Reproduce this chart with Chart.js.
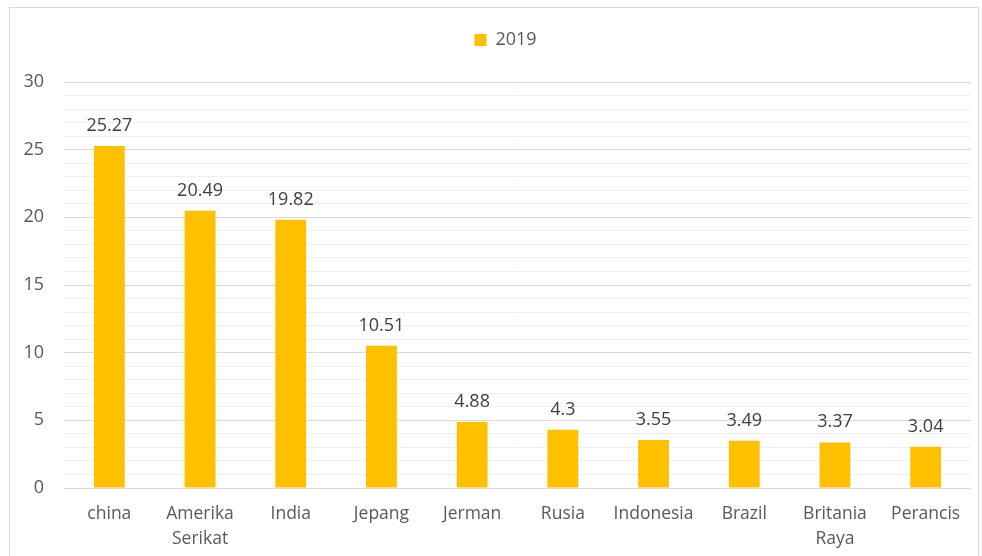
<!DOCTYPE html>
<html>
<head>
<meta charset="utf-8">
<script src="https://cdn.jsdelivr.net/npm/chart.js@4"></script>
<style>
    body { margin: 0; background: #fff; }
    #wrap { position: relative; width: 982px; height: 556px; }
    #frame { position: absolute; left: 9px; top: 7px; width: 970px; height: 560px; border: 1px solid #d9d9d9; box-sizing: border-box; }
    canvas { position: absolute; left: 0; top: 0; }
</style>
</head>
<body>
<div id="wrap">
    <div id="frame"></div>
    <canvas id="barChart" width="982" height="556"></canvas>
</div>
<script>
const categories = ['china', ['Amerika', 'Serikat'], 'India', 'Jepang', 'Jerman', 'Rusia', 'Indonesia', 'Brazil', ['Britania', 'Raya'], 'Perancis'];
const values2019 = [25.27, 20.49, 19.82, 10.51, 4.88, 4.3, 3.55, 3.49, 3.37, 3.04];
const seriesName = '2019';
const yTickLabels = [0, 5, 10, 15, 20, 25, 30];

const fontFamily = '"Open Sans", Lato, sans-serif';

const valueLabels = {
    id: 'valueLabels',
    afterDatasetsDraw(chart) {
        const ctx = chart.ctx;
        const meta = chart.getDatasetMeta(0);
        ctx.save();
        ctx.fillStyle = '#404040';
        ctx.font = '18px ' + fontFamily;
        ctx.textAlign = 'center';
        ctx.textBaseline = 'alphabetic';
        meta.data.forEach((bar, i) => {
            ctx.fillText(String(values2019[i]), bar.x, bar.y - 15);
        });
        ctx.restore();
    }
};

// push the plot down below the legend, and nudge the legend a bit right like the original
const legendTweak = {
    id: 'legendTweak',
    beforeInit(chart) {
        const legend = chart.legend;
        const fit = legend.fit;
        const draw = legend.draw;
        legend.fit = function () {
            fit.call(this);
            this.height += 23;
        };
        legend.draw = function () {
            chart.ctx.save();
            chart.ctx.translate(20, 0);
            draw.call(this);
            chart.ctx.restore();
        };
    }
};

const ctx = document.getElementById('barChart').getContext('2d');
const chart = new Chart(ctx, {
    type: 'bar',
    data: {
        labels: categories,
        datasets: [{
            label: seriesName,
            data: values2019,
            backgroundColor: '#FFC000',
            borderWidth: 0,
            categoryPercentage: 1,
            barPercentage: 0.34
        }]
    },
    options: {
        responsive: false,
        animation: false,
        layout: {
            padding: { left: 0, right: 11, top: 25, bottom: 0 }
        },
        plugins: {
            legend: {
                position: 'top',
                labels: {
                    boxWidth: 12,
                    boxHeight: 12,
                    color: '#595959',
                    font: { family: fontFamily, size: 18 },
                    padding: 6
                }
            },
            tooltip: { enabled: false }
        },
        scales: {
            x: {
                grid: { display: false, drawTicks: false },
                border: { display: false },
                ticks: {
                    color: '#595959',
                    font: { family: fontFamily, size: 17.5, lineHeight: 1.4 },
                    padding: 14,
                    maxRotation: 0,
                    autoSkip: false
                },
                afterFit(scale) { scale.height = 68; }
            },
            y: {
                min: 0,
                max: 30,
                grid: {
                    drawTicks: false,
                    color: c => (c.tick && c.tick.value % 5 === 0) ? '#d9d9d9' : '#efefef',
                    lineWidth: 1
                },
                border: { display: false },
                ticks: {
                    stepSize: 1,
                    autoSkip: false,
                    color: '#595959',
                    font: { family: fontFamily, size: 18 },
                    padding: 20,
                    callback: v => yTickLabels.includes(v) ? v : ''
                },
                afterFit(scale) { scale.width = 64; }
            }
        }
    },
    plugins: [valueLabels, legendTweak]
});
</script>
</body>
</html>
